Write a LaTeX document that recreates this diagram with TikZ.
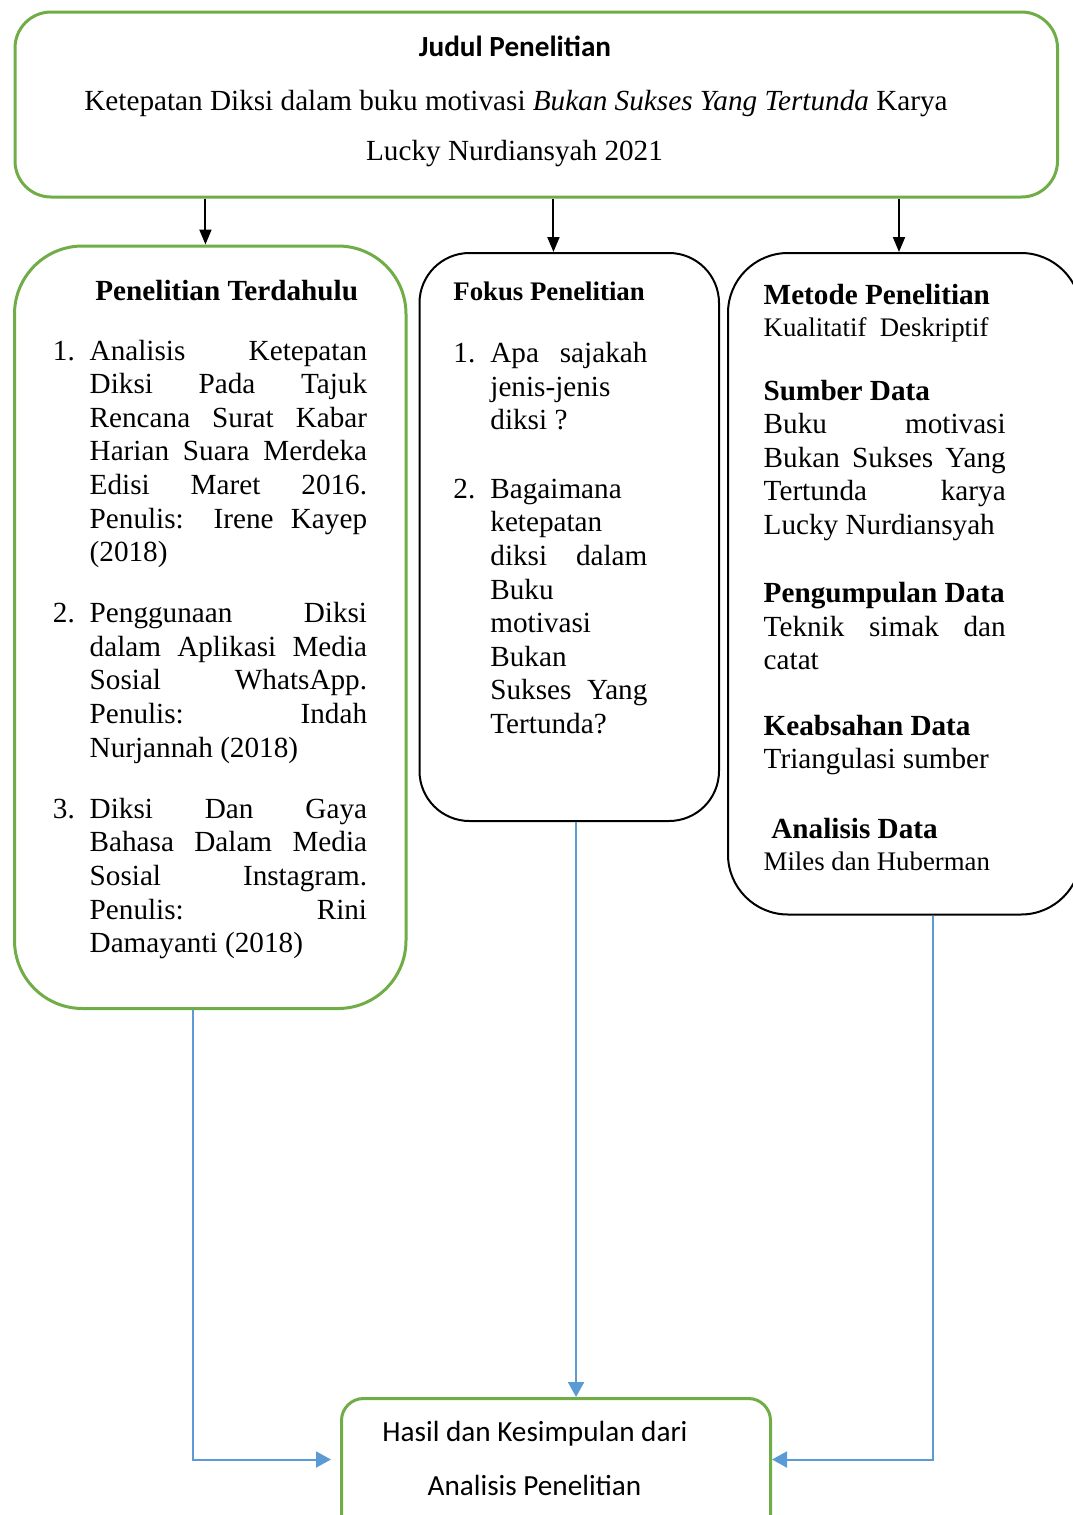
\documentclass[tikz,border=0pt]{standalone}
\usepackage{fontspec}
\setmainfont{Liberation Serif}
\newfontfamily\calibri{Carlito}
\usetikzlibrary{positioning,arrows.meta}
\definecolor{boxgreen}{HTML}{70AD47}
\definecolor{lineblue}{HTML}{5B9BD5}
\newcommand{\txtbody}{\fontsize{14.6pt}{16.8pt}\selectfont}
\newcommand{\txtsmall}{\fontsize{13.4pt}{15.4pt}\selectfont}

\begin{document}
\begin{tikzpicture}[x=0.5pt,y=-0.5pt,
  greenbox/.style={draw=boxgreen,line width=1.5pt,rounded corners=#1,inner sep=0pt,anchor=north west},
  blackbox/.style={draw=black,line width=1pt,rounded corners=#1,inner sep=0pt,anchor=north west},
  txt/.style={inner sep=0pt,anchor=base west,font=\txtbody},
  para/.style={txt,text width=#1,align=justify,
    execute at begin node={\hyphenpenalty=10000\exhyphenpenalty=10000}},
  downarrow/.style={draw=black,line width=1pt,-{Triangle[length=7.5pt,width=6pt]}},
  bluearrow/.style={draw=lineblue,line width=1pt,-{Triangle[length=7.5pt,width=8pt]}}]
\useasboundingbox (0,0) rectangle (1072,1515);
%
\node[greenbox=18pt,minimum width=521.25pt,minimum height=92.5pt] (judul) at (13.5,10.5) {};
\node[greenbox=34pt,minimum width=195.75pt,minimum height=381.25pt] (terdahulu) at (13,244.5) {};
\node[blackbox=25pt,minimum width=149.75pt,minimum height=284pt] (fokus) at (418.5,252) {};
\node[blackbox=30pt,minimum width=176.5pt,minimum height=330.75pt] (metode) at (727,252) {};
\node[greenbox=11pt,minimum width=214.5pt,minimum height=71.5pt] (hasil) at (340,1397) {};
%
\node[txt,anchor=base,font=\txtbody\calibri\bfseries] (judulhead) at (515,56.7) {Judul Penelitian};
\node[txt,anchor=base] (judul1) at (516,110) {Ketepatan Diksi dalam buku motivasi \textit{Bukan Sukses Yang Tertunda} Karya};
\node[txt,anchor=base] (judul2) at (514.5,160) {Lucky Nurdiansyah 2021};
%
\node[txt,font=\txtbody\bfseries] (terdahuluhead) at (95,300) {Penelitian Terdahulu};
\node[txt] (no1) at (52.5,360) {1.};
\node[para=138.7pt] (item1) at (89.3,360) {Analisis Ketepatan\linebreak Diksi Pada Tajuk\linebreak Rencana Surat Kabar\linebreak Harian Suara Merdeka\linebreak Edisi Maret 2016.\linebreak Penulis: Irene Kayep\linebreak (2018)};
\node[txt] (no2) at (52.5,622.7) {2.};
\node[para=138.7pt] (item2) at (89.3,622.7) {Penggunaan Diksi\linebreak dalam Aplikasi Media\linebreak Sosial WhatsApp.\linebreak Penulis: Indah\linebreak Nurjannah (2018)};
\node[txt] (no3) at (52.5,818.3) {3.};
\node[para=138.7pt] (item3) at (89.3,818.3) {Diksi Dan Gaya\linebreak Bahasa Dalam Media\linebreak Sosial Instagram.\linebreak Penulis: Rini\linebreak Damayanti (2018)};
%
\node[txt,font=\txtsmall\bfseries] (fokushead) at (453,300) {Fokus Penelitian};
\node[txt] (no4) at (453,362.7) {1.};
\node[para=78.5pt] (fokus1) at (490,362.7) {Apa sajakah\linebreak jenis-jenis\linebreak diksi ?};
\node[txt] (no5) at (453,498.3) {2.};
\node[para=78.5pt] (fokus2) at (490,498.3) {Bagaimana\linebreak ketepatan\linebreak diksi dalam\linebreak Buku\linebreak motivasi\linebreak Bukan\linebreak Sukses Yang\linebreak Tertunda?};
%
\node[txt,font=\txtbody\bfseries] (metodehead) at (763.3,304) {Metode Penelitian};
\node[txt,font=\txtsmall] (metode1) at (763.3,336.7) {Kualitatif\ \ Deskriptif};
\node[para=121pt] (sumber) at (763.3,400) {\textbf{Sumber Data}\\Buku motivasi\linebreak Bukan Sukses Yang\linebreak Tertunda karya\linebreak Lucky Nurdiansyah};
\node[para=121pt] (kumpul) at (763.3,602.7) {\textbf{Pengumpulan Data}\\Teknik simak dan\linebreak catat};
\node[para=121pt] (absah) at (763.3,735) {\textbf{Keabsahan Data}\\Triangulasi sumber};
\node[txt,font=\txtbody\bfseries] (analisishead) at (771,838.3) {Analisis Data};
\node[txt,font=\txtsmall] (analisis1) at (763.3,870) {Miles dan Huberman};
%
\node[txt,anchor=base,font=\txtbody\calibri] (hasil1) at (535,1441.7) {Hasil dan Kesimpulan dari};
\node[txt,anchor=base,font=\txtbody\calibri] (hasil2) at (534.5,1495) {Analisis Penelitian};
%
\coordinate (terdahulutop) at ([xshift=-2.4pt]terdahulu.north);
\coordinate (fokustop) at ([xshift=-7.9pt]fokus.north);
\coordinate (metodetop) at ([xshift=-2.75pt]metode.north);
\draw[downarrow] (terdahulutop |- judul.south) -- (terdahulutop);
\draw[downarrow] (fokustop |- judul.south) -- (fokustop);
\draw[downarrow] (metodetop |- judul.south) -- (metodetop);
%
\coordinate (terdahulubot) at ([xshift=-8.4pt]terdahulu.south);
\coordinate (hasilleft) at ([xshift=-4.5pt,yshift=5.25pt]hasil.west);
\coordinate (fokusbot) at ([xshift=3.4pt]fokus.south);
\coordinate (metodebot) at ([xshift=14pt]metode.south);
\coordinate (hasilright) at ([yshift=5.25pt]hasil.east);
\draw[bluearrow] (terdahulubot) |- (hasilleft);
\draw[bluearrow] (fokusbot) -- (fokusbot |- hasil.north);
\draw[bluearrow] (metodebot) |- (hasilright);
\end{tikzpicture}
\end{document}
